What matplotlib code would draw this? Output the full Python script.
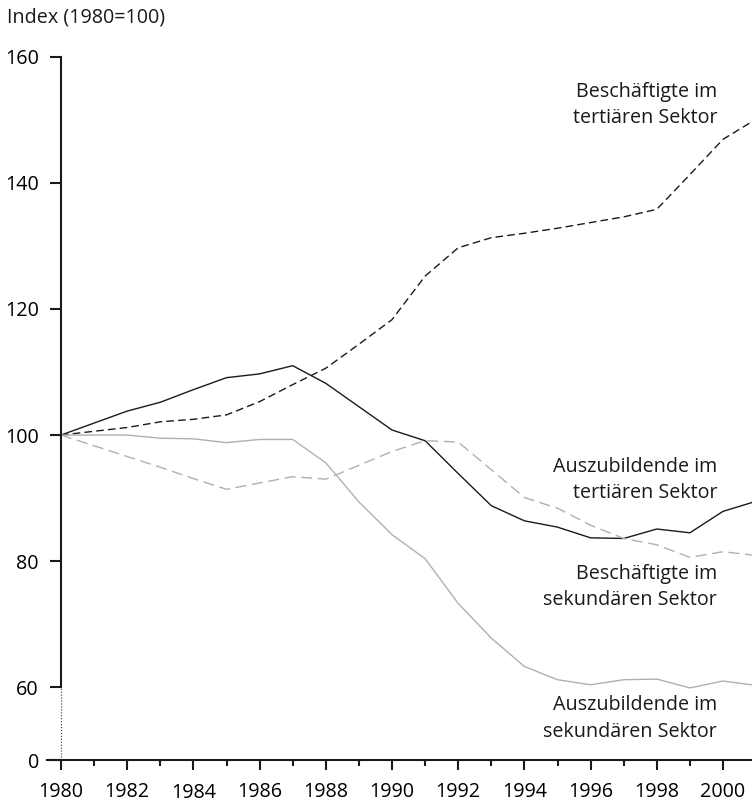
import matplotlib
matplotlib.use("Agg")
import matplotlib.pyplot as plt

plt.rcParams['font.family'] = ['Open Sans', 'DejaVu Sans']

years = list(range(1980, 2002))

# Index 1980 = 100
azubi_tertiaer = [100, 101.9, 103.8, 105.2, 107.2, 109.1, 109.7, 111.0, 108.2, 104.5, 100.8,
                  99.1, 93.9, 88.8, 86.4, 85.4, 83.7, 83.6, 85.1, 84.5, 87.9, 89.5]
besch_tertiaer = [100, 100.6, 101.2, 102.1, 102.5, 103.2, 105.3, 108.0, 110.6, 114.4, 118.3,
                  125.2, 129.7, 131.3, 132.0, 132.8, 133.7, 134.6, 135.8, 141.3, 146.9, 150.1]
azubi_sekundaer = [100, 100.0, 100.0, 99.5, 99.4, 98.8, 99.3, 99.3, 95.6, 89.4, 84.2,
                   80.4, 73.3, 67.8, 63.3, 61.2, 60.4, 61.2, 61.3, 59.9, 61.0, 60.3]
besch_sekundaer = [100, 98.3, 96.6, 94.9, 93.1, 91.4, 92.4, 93.4, 93.0, 95.2, 97.4,
                   99.1, 98.9, 94.5, 90.1, 88.4, 85.7, 83.6, 82.6, 80.6, 81.5, 80.9]

y_ticks = [60, 80, 100, 120, 140, 160]
x_ticks = list(range(1980, 2001, 2))
zero_pos = 48.47   # "0" sits below the axis break

labels = ['Beschäftigte im\ntertiären Sektor',
          'Auszubildende im\ntertiären Sektor',
          'Beschäftigte im\nsekundären Sektor',
          'Auszubildende im\nsekundären Sektor']
label_y = [152.35, 92.88, 75.91, 55.06]

fs = 14.2
dark = '#1a1a1a'
grey = '#b0b0b0'

fig = plt.figure(figsize=(7.52, 8.02), dpi=100)
ax = fig.add_axes([47 / 752, 42 / 802, (756.1 - 47) / 752, (745.3 - 42) / 802])

ax.plot(years, besch_tertiaer, color=dark, lw=1.0, dashes=(5.5, 3))
ax.plot(years, azubi_tertiaer, color=dark, lw=1.0)
ax.plot(years, besch_sekundaer, color=grey, lw=1.0, dashes=(8, 4))
ax.plot(years, azubi_sekundaer, color=grey, lw=1.0)

ax.set_xlim(1979.577, 2001)
ax.set_ylim(zero_pos, 160)

for s in ['top', 'right']:
    ax.spines[s].set_visible(False)
ax.spines['left'].set_position(('data', 1980))
ax.spines['left'].set_bounds(60, 160)
ax.spines['left'].set_linewidth(1.5)
ax.spines['bottom'].set_linewidth(1.5)
ax.spines['left'].set_color(dark)
ax.spines['bottom'].set_color(dark)

# dotted piece of the broken y axis
ax.plot([1980, 1980], [zero_pos, 60], ls=':', color='#333333', lw=0.8, clip_on=False)

ax.set_yticks([zero_pos] + y_ticks, ['0'] + [str(v) for v in y_ticks])
ax.set_xticks(x_ticks, [str(v) for v in x_ticks])
ax.set_xticks(list(range(1981, 2002, 2)), minor=True)
ax.tick_params(axis='y', length=8, width=1.5, pad=8.0, labelsize=fs, color=dark)
ax.tick_params(axis='x', which='major', length=7.5, width=1.5, pad=8.5, labelsize=fs, color=dark)
ax.tick_params(axis='x', which='minor', length=4.5, width=1.5, color=dark)

# 1984 sits a bit lower in the original
ax.xaxis.get_major_ticks()[2].label1.set_y(-0.0017)

for txt, yy in zip(labels, label_y):
    ax.text(1999.82, yy, txt, ha='right', va='center', multialignment='right',
            fontsize=fs, linespacing=1.42, color=dark)

fig.text(7 / 752, 1 - 17 / 802, 'Index (1980=100)', ha='left', va='center', fontsize=fs, color=dark)

fig.savefig('out.png', dpi=100)
